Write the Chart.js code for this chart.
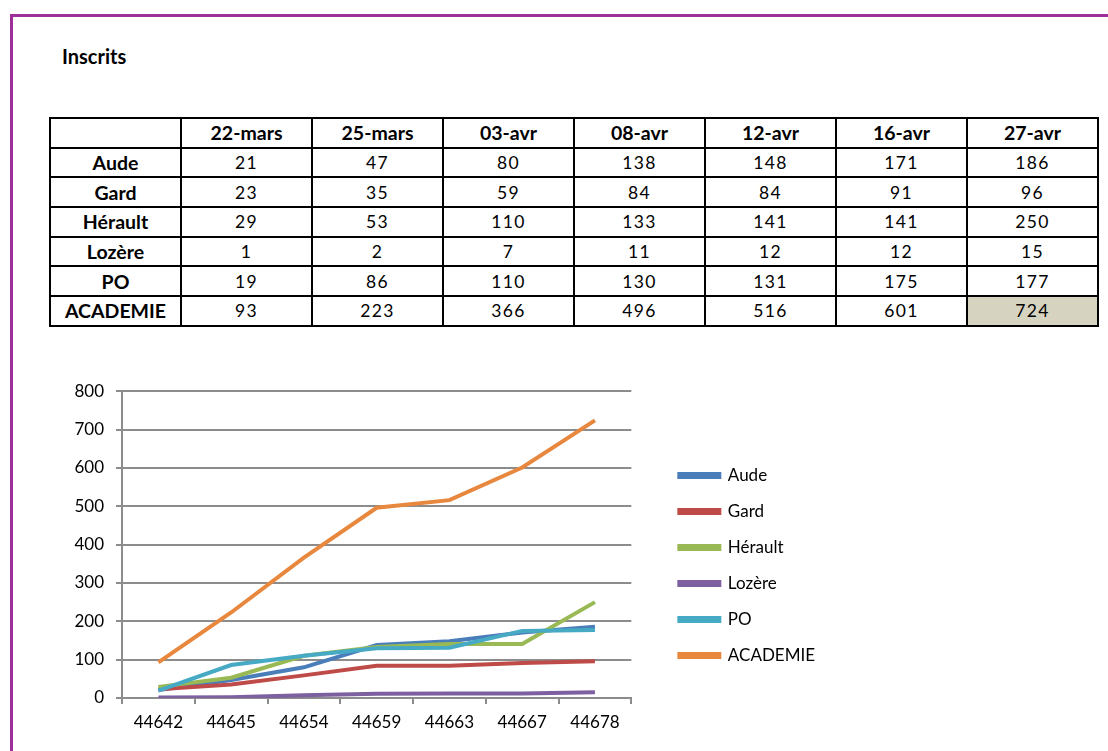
<!DOCTYPE html>
<html><head><meta charset="utf-8">
<script src="https://cdn.jsdelivr.net/npm/chart.js@4"></script>
<style>
html,body{margin:0;padding:0;background:#fff;width:1108px;height:751px;overflow:hidden;font-family:Lato,sans-serif;color:#000;}
#frameTop{position:absolute;left:10px;top:14px;width:1098px;height:3px;background:#9E2F98;}
#frameLeft{position:absolute;left:10px;top:14px;width:3px;height:737px;background:#9E2F98;}
#title{position:absolute;left:62px;top:44px;font-weight:bold;font-size:20px;}
table{position:absolute;left:49px;top:117px;border-collapse:collapse;border:2px solid #000;table-layout:fixed;width:1048px;}
td{border:2px solid #000;padding:0;text-align:center;height:27.7px;font-size:17.5px;letter-spacing:1.3px;}
td.h{font-weight:bold;font-size:19.5px;letter-spacing:0;}
td.hl{background:#D6D3C0;}
#wrap{position:absolute;left:40px;top:369px;}
</style></head>
<body>
<div id="frameTop"></div><div id="frameLeft"></div>
<div id="title">Inscrits</div>
<table id="tbl"><colgroup id="cg"></colgroup><tbody id="tb"></tbody></table>
<div id="wrap"><canvas id="c" width="800" height="392"></canvas></div>
<script>
const dateHeaders = ['22-mars','25-mars','03-avr','08-avr','12-avr','16-avr','27-avr'];
const xLabels = ['44642','44645','44654','44659','44663','44667','44678'];
const seriesNames = ['Aude','Gard','Hérault','Lozère','PO','ACADEMIE'];
const aude = [21,47,80,138,148,171,186];
const gard = [23,35,59,84,84,91,96];
const herault = [29,53,110,133,141,141,250];
const lozere = [1,2,7,11,12,12,15];
const po = [19,86,110,130,131,175,177];
const academie = [93,223,366,496,516,601,724];
const seriesValues = [aude,gard,herault,lozere,po,academie];
const seriesColors = ['#4A7EBB','#BE4B48','#98B954','#7D60A0','#46AAC5','#E8883F'];

// table
const cg = document.getElementById('cg');
[131,131,131,131,131,131,131,131].forEach(w=>{const c=document.createElement('col');c.style.width=w+'px';cg.appendChild(c);});
const tb = document.getElementById('tb');
let tr = document.createElement('tr');
tr.appendChild(Object.assign(document.createElement('td'),{className:'h'}));
dateHeaders.forEach(d=>{const td=document.createElement('td');td.className='h';td.textContent=d;tr.appendChild(td);});
tb.appendChild(tr);
seriesNames.forEach((n,i)=>{
  const r=document.createElement('tr');
  const th=document.createElement('td');th.className='h';th.textContent=n;r.appendChild(th);
  seriesValues[i].forEach((v,j)=>{const td=document.createElement('td');td.textContent=v;
    if(i===seriesNames.length-1 && j===dateHeaders.length-1) td.className='hl';
    r.appendChild(td);});
  tb.appendChild(r);
});

// chart
const font = {family:'Lato', size:17};
const gridColor = '#8C8C8C';
new Chart(document.getElementById('c'), {
  type:'line',
  data:{
    labels:xLabels,
    datasets:seriesNames.map((n,i)=>({
      label:n, data:seriesValues[i], borderColor:seriesColors[i], backgroundColor:seriesColors[i],
      borderWidth:4, pointRadius:0, tension:0, fill:false, order:seriesNames.length-i
    }))
  },
  options:{
    responsive:false, animation:false, devicePixelRatio:1,
    layout:{padding:{top:1,left:0,right:15,bottom:0}},
    plugins:{
      legend:{position:'right', align:'center', maxWidth:400,
        labels:{font:font, color:'#000', boxWidth:40, boxHeight:3, padding:19,
          sort:(a,b)=>a.datasetIndex-b.datasetIndex}},
      tooltip:{enabled:false}
    },
    scales:{
      x:{offset:true,
        grid:{offset:true, drawOnChartArea:false, drawTicks:true, tickLength:6, color:gridColor, lineWidth:2},
        border:{color:gridColor, width:2},
        ticks:{font:font, color:'#000', padding:8, maxRotation:0, autoSkip:false},
        afterFit:s=>{s.height=63;}},
      y:{min:0, max:800,
        ticks:{stepSize:100, font:font, color:'#000', padding:12},
        grid:{color:gridColor, lineWidth:2, tickLength:6},
        border:{color:gridColor, width:2},
        afterFit:s=>{s.width=82;}},
      y2:{position:'right', display:true, grid:{display:false}, ticks:{display:false}, border:{display:false},
        afterFit:s=>{s.width=29;}}
    }
  }
});
</script>
</body></html>
